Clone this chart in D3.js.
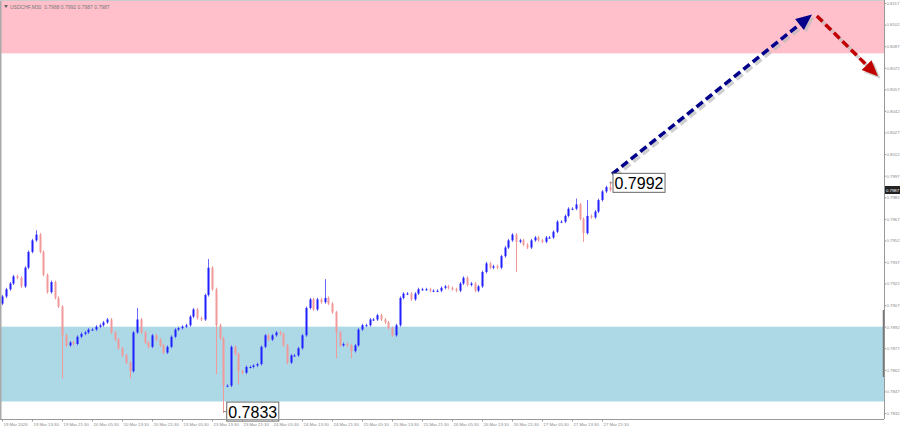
<!DOCTYPE html>
<html><head><meta charset="utf-8">
<script src="https://cdn.jsdelivr.net/npm/d3@7"></script>
<style>html,body{margin:0;padding:0;background:#fff;overflow:hidden}svg{display:block}</style>
</head><body>
<svg id="c" width="900" height="429"></svg>
<script>
// ---- data ----
const title = "USDCHF,M30  0.7988 0.7992 0.7987 0.7987";
const closes = [0.7913,0.7918,0.7922,0.7927,0.7926,0.7920,0.7933,0.7944,0.7952,0.7956,
0.7944,0.7928,0.7916,0.7923,0.7912,0.7906,0.7886,0.7879,0.7881,0.7880,
0.7885,0.7887,0.7888,0.7890,0.7890,0.7892,0.7893,0.7895,0.7897,0.7888,
0.7883,0.7877,0.7872,0.7867,0.7861,0.7888,0.7897,0.7888,0.7881,0.7878,
0.7886,0.7883,0.7879,0.7874,0.7878,0.7885,0.7890,0.7891,0.7892,0.7893,
0.7899,0.7904,0.7898,0.7897,0.7914,0.7933,0.7918,0.7893,0.7884,0.7851,
0.7851,0.7878,0.7873,0.7861,0.7860,0.7864,0.7864,0.7865,0.7866,0.7878,
0.7886,0.7883,0.7886,0.7888,0.7887,0.7879,0.7867,0.7872,0.7872,0.7877,
0.7886,0.7905,0.7911,0.7904,0.7911,0.7909,0.7912,0.7908,0.7902,0.7888,
0.7879,0.7880,0.7879,0.7875,0.7879,0.7890,0.7893,0.7893,0.7897,0.7897,
0.7900,0.7897,0.7895,0.7891,0.7886,0.7893,0.7912,0.7915,0.7915,0.7911,
0.7915,0.7918,0.7918,0.7918,0.7917,0.7917,0.7917,0.7919,0.7920,0.7919,
0.7918,0.7917,0.7922,0.7926,0.7921,0.7922,0.7917,0.7920,0.7930,0.7936,
0.7933,0.7934,0.7933,0.7941,0.7947,0.7952,0.7956,0.7951,0.7952,0.7949,
0.7947,0.7952,0.7954,0.7952,0.7951,0.7954,0.7954,0.7958,0.7965,0.7965,
0.7969,0.7974,0.7974,0.7977,0.7967,0.7957,0.7969,0.7968,0.7972,0.7980,
0.7986,0.7989,0.7987];
const firstOpen = 0.7908;
// notable wicks: [bar index, high, low]
const wicks = [[9,0.7958,null],[16,null,0.7857],[34,null,0.7857],[36,0.7904,null],[55,0.7938,null],
  [57,null,0.7860],[59,null,0.7833],[63,null,0.7853],[86,0.7924,null],[89,null,0.7871],
  [93,null,0.7871],[137,null,0.7931],[153,0.7980,null],[155,null,0.7952],[156,0.7979,null],[162,0.7992,null]];
const priceTicks = d3.range(0,20).map(k => +(0.7832 + 0.0015*k).toFixed(4));
const timeLabels = ["19 Mar 2026","19 Mar 13:30","19 Mar 21:30","20 Mar 05:30","20 Mar 13:30","20 Mar 21:30",
  "23 Mar 05:30","23 Mar 13:30","23 Mar 21:30","24 Mar 05:30","24 Mar 13:30","24 Mar 21:30",
  "25 Mar 05:30","25 Mar 13:30","25 Mar 21:30","26 Mar 05:30","26 Mar 13:30","26 Mar 21:30",
  "27 Mar 05:30","27 Mar 13:30","27 Mar 21:30"];
const timeIdx = timeLabels.map((_,k) => k*8);
const resistanceZone = [0.8082, 0.8130];
const supportZone = [0.7840, 0.7892];
const upForecast = [[162.7,0.7998],[216.0,0.8109]];
const downForecast = [[217.3,0.8108],[233.6,0.8066]];
const labelHigh = {i:162, p:0.7992, text:"0.7992"};
const labelLow = {i:59, p:0.7833, text:"0.7833"};
const currentPrice = 0.7987;

// ---- drawing ----
const W=900,H=429, plotR=884, plotB=419;
const FONT="Liberation Sans, Arial, sans-serif";
const svg = d3.select("#c");
const x = d3.scaleLinear().domain([0,160]).range([2,602]);
const y = d3.scaleLinear().domain([0.7832,0.8117]).range([413,3]);

svg.append("defs").append("clipPath").attr("id","clip")
  .append("rect").attr("x",1).attr("y",0).attr("width",plotR-1).attr("height",plotB);

const g = svg.append("g").attr("clip-path","url(#clip)");
g.append("rect").attr("x",0).attr("width",plotR).attr("y",y(resistanceZone[1])).attr("height",y(resistanceZone[0])-y(resistanceZone[1])).attr("fill","#ffc0cb");
g.append("rect").attr("x",0).attr("width",plotR).attr("y",y(supportZone[1])).attr("height",y(supportZone[0])-y(supportZone[1])).attr("fill","#add8e6");

// candles
const wmap = new Map(wicks.map(w=>[w[0],w]));
const bars = closes.map((c,i)=>{
  const o = i===0 ? firstOpen : closes[i-1];
  const w = wmap.get(i);
  const top = Math.max(o,c), bot = Math.min(o,c);
  return {i,o,c,h: w&&w[1]!=null ? w[1] : top, l: w&&w[2]!=null ? w[2] : bot};
});
const up = "#1f1fff", dn = "#f29a9a";
const cg = g.append("g");
cg.selectAll("line").data(bars).join("line")
  .attr("x1",d=>Math.round(x(d.i))+0.5).attr("x2",d=>Math.round(x(d.i))+0.5)
  .attr("y1",d=>y(d.h)-1.5).attr("y2",d=>y(d.l)+1.5)
  .attr("stroke",d=>d.c>=d.o?"#6a6aff":dn).attr("stroke-width",1);
cg.selectAll("rect").data(bars).join("rect")
  .attr("x",d=>Math.round(x(d.i))-0.5).attr("width",2)
  .attr("y",d=>y(Math.max(d.o,d.c))).attr("height",d=>Math.max(1,Math.abs(y(d.o)-y(d.c))))
  .attr("fill",d=>d.c>=d.o?up:dn);

// forecast arrows
function arrow(pts,color){
  const [x1,y1]=[x(pts[0][0]),y(pts[0][1])],[x2,y2]=[x(pts[1][0]),y(pts[1][1])];
  const a=Math.atan2(y2-y1,x2-x1), L=16, hw=7;
  const ex=x2-Math.cos(a)*(L-3), ey=y2-Math.sin(a)*(L-3);
  const head=[[x2,y2],[x2-Math.cos(a)*L-Math.sin(a)*hw, y2-Math.sin(a)*L+Math.cos(a)*hw],
              [x2-Math.cos(a)*L+Math.sin(a)*hw, y2-Math.sin(a)*L-Math.cos(a)*hw]];
  [[2.5,"#bbbbbb"],[0,color]].forEach(([off,col])=>{
    const gg=g.append("g").attr("transform",`translate(${off},${off})`).attr("opacity",off?0.7:1);
    gg.append("line").attr("x1",x1).attr("y1",y1).attr("x2",ex).attr("y2",ey)
      .attr("stroke",col).attr("stroke-width",3.5).attr("stroke-dasharray","8,4");
    gg.append("polygon").attr("points",head.map(p=>p.join(",")).join(" ")).attr("fill",col);
  });
}
arrow(upForecast,"#00008b");
arrow(downForecast,"#c00000");

// price labels
function priceLabel(lb){
  const px=x(lb.i), py=y(lb.p);
  const gg=svg.append("g");
  gg.append("line").attr("x1",px).attr("x2",px+3).attr("y1",py).attr("y2",py).attr("stroke","#888");
  const t=gg.append("text").attr("x",px+5).attr("y",py+6).text(lb.text)
    .attr("font-family",FONT).attr("font-size",16).attr("fill","#000");
  const bb=t.node().getBBox();
  gg.insert("rect","text").attr("x",bb.x-1.5).attr("y",py-9.5).attr("width",bb.width+3).attr("height",19)
    .attr("fill","#fff").attr("stroke","#666").attr("stroke-width",1);
}
priceLabel(labelHigh);
priceLabel(labelLow);

// frame
svg.append("line").attr("x1",0.5).attr("x2",0.5).attr("y1",0).attr("y2",plotB).attr("stroke","#aaa").attr("stroke-width",2);
svg.append("line").attr("x1",0).attr("x2",plotR).attr("y1",0.5).attr("y2",0.5).attr("stroke","#ccc");

// axes
const ay = svg.append("g").attr("transform",`translate(${plotR+0.5},0)`)
  .call(d3.axisRight(y).tickValues(priceTicks).tickFormat(d3.format(".4f")).tickSize(1.5).tickPadding(0.5));
const ax = svg.append("g").attr("transform",`translate(0,${plotB+0.5})`)
  .call(d3.axisBottom(x).tickValues(timeIdx).tickFormat((d,k)=>timeLabels[k]).tickSize(2).tickPadding(1));
[ay,ax].forEach(a=>{
  a.select(".domain").attr("stroke","#999");
  a.selectAll(".tick line").attr("stroke","#999");
  a.selectAll("text").attr("fill","#888").attr("font-size",4.3).attr("font-family",FONT);
});
ax.select(".domain").attr("d",`M0,0H${plotR}`);
ay.select(".domain").attr("d",`M0,0V${plotB}`);
ax.selectAll("text").attr("text-anchor","start").attr("dx",1);
svg.append("line").attr("x1",plotR-0.5).attr("x2",plotR-0.5).attr("y1",310).attr("y2",377).attr("stroke","#777").attr("stroke-width",1.5);

// current price marker
const cp=y(currentPrice);
svg.append("rect").attr("x",plotR+1).attr("y",cp-4).attr("width",15).attr("height",8).attr("fill","#222");
svg.append("text").attr("x",plotR+2).attr("y",cp+1.6).text(d3.format(".4f")(currentPrice))
  .attr("fill","#fff").attr("font-size",4.3).attr("font-family",FONT);

// title
svg.append("path").attr("d","M4,5 L8,5 L6,8 Z").attr("fill","#666");
svg.append("text").attr("x",10).attr("y",9).text(title).attr("fill","#777").attr("font-size",5)
  .attr("font-family",FONT).attr("xml:space","preserve");
</script>
</body></html>
